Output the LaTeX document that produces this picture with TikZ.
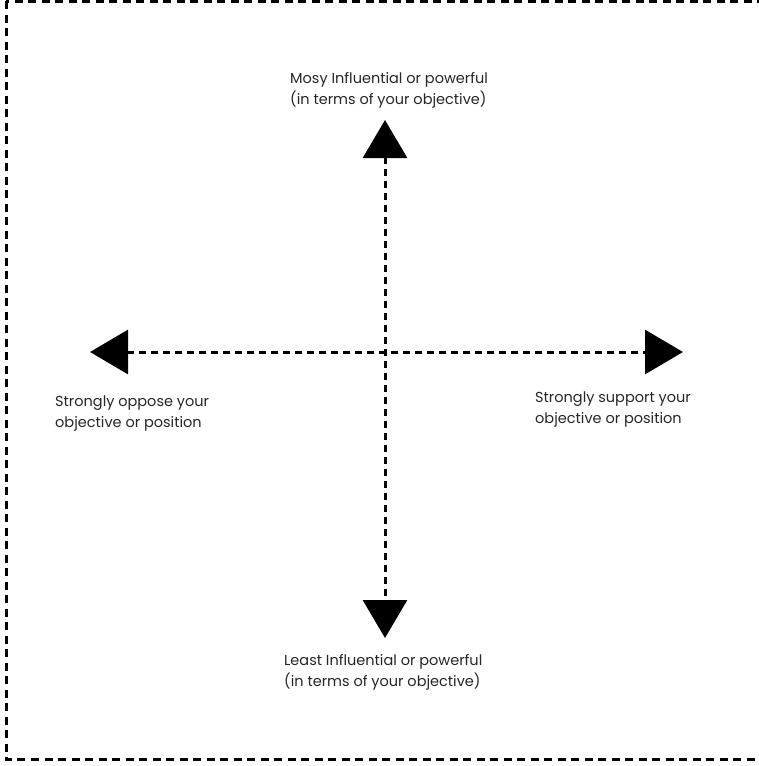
\documentclass[tikz,border=0pt]{standalone}
\usepackage{fontspec}
\setmainfont{Poppins}
\usetikzlibrary{arrows.meta}
\begin{document}
\begin{tikzpicture}[x=1pt,y=-1pt,
  frame/.style={line width=3pt,dash pattern=on 8pt off 5.5pt},
  axis/.style={line width=3pt,dash pattern=on 7pt off 5pt,
    {Triangle[length=38pt,width=44pt]}-{Triangle[length=38pt,width=44pt]}},
  lbl/.style={anchor=north west,inner sep=0pt,align=left,
    font=\fontsize{14.5}{21}\selectfont,text=black!85}]
\useasboundingbox (0,0) rectangle (759,766);
\begin{scope}
\clip (0,0) rectangle (759,766);
\draw[frame] (6,1) rectangle (775,759);
\end{scope}
\coordinate (T) at (385,120);
\coordinate (B) at (385,638);
\coordinate (L) at (90,352);
\coordinate (R) at (683,352);
\draw[axis] (T) -- (B);
\draw[axis] (L) -- (R);
\node[lbl] (top) at (290,72) {Mosy Influential or powerful\\(in terms of your objective)};
\node[lbl] (bot) at (284,654) {Least Influential or powerful\\(in terms of your objective)};
\node[lbl] (lft) at (55,396) {Strongly oppose your\\objective or position};
\node[lbl] (rgt) at (535,392) {Strongly support your\\objective or position};
\end{tikzpicture}
\end{document}
